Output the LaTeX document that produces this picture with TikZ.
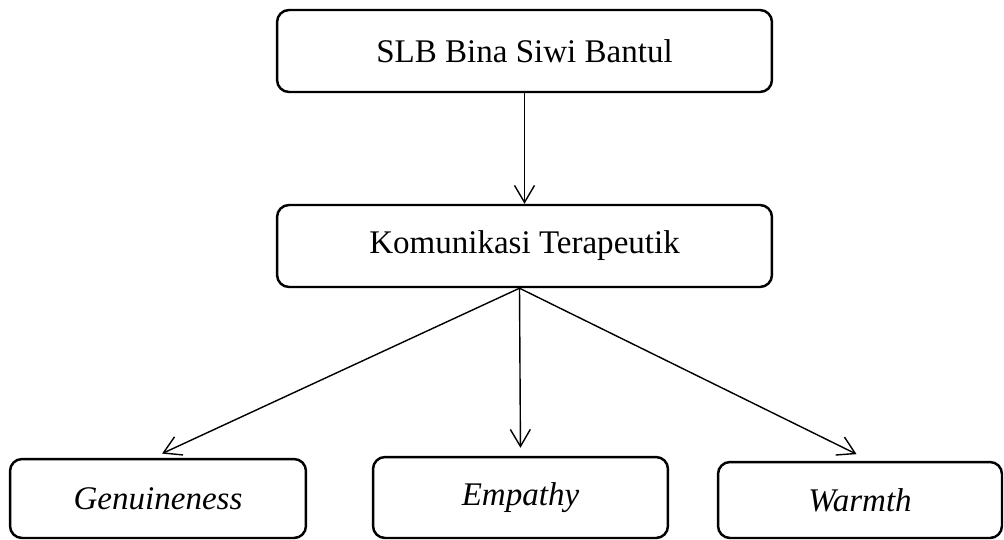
\documentclass[tikz,border=0pt]{standalone}
\usepackage{fontspec}
\setmainfont{Liberation Serif}
\usepackage{tikz}
\usetikzlibrary{positioning,calc}
\usetikzlibrary{arrows.meta}

\begin{document}
\begin{tikzpicture}[x=0.02cm,y=-0.02cm]
		\tikzset{
			boxnode/.style={draw,line width=1.4pt,rounded corners=0.24cm,font=\fontsize{18.8}{22}\selectfont,inner sep=0pt},
			link/.style={-{Straight Barb[length=0.34cm,width=0.4cm,line width=0.8pt]},line width=0.8pt},
		}
		\useasboundingbox (0,0) rectangle (1004,539);
		\node[boxnode,minimum width=9.9cm,minimum height=1.64cm] (slb) at (524.5,51) {SLB Bina Siwi Bantul};
		\node[boxnode,minimum width=9.9cm,minimum height=1.64cm] (komu) at (524.5,246) {Komunikasi Terapeutik};
		\node[boxnode,minimum width=5.92cm,minimum height=1.58cm] (gen) at (158,498.5) {\textit{Genuineness}};
		\node[boxnode,minimum width=5.9cm,minimum height=1.62cm] (emp) at (520.5,497.5) {\textit{Empathy}};
		\node[boxnode,minimum width=5.68cm,minimum height=1.52cm] (warm) at (860,500) {\textit{Warmth}};

		\draw[link] (slb.south) -- (komu.north);
		\foreach \t/\dx/\s in {gen/-0.1/0.2,emp/0/0.16,warm/0.2/0.3}{
				\draw[link,shorten >=\s cm] ([xshift=-0.1cm]komu.south) -- ([xshift=\dx cm]\t.north);
			}
	\end{tikzpicture}
\end{document}
